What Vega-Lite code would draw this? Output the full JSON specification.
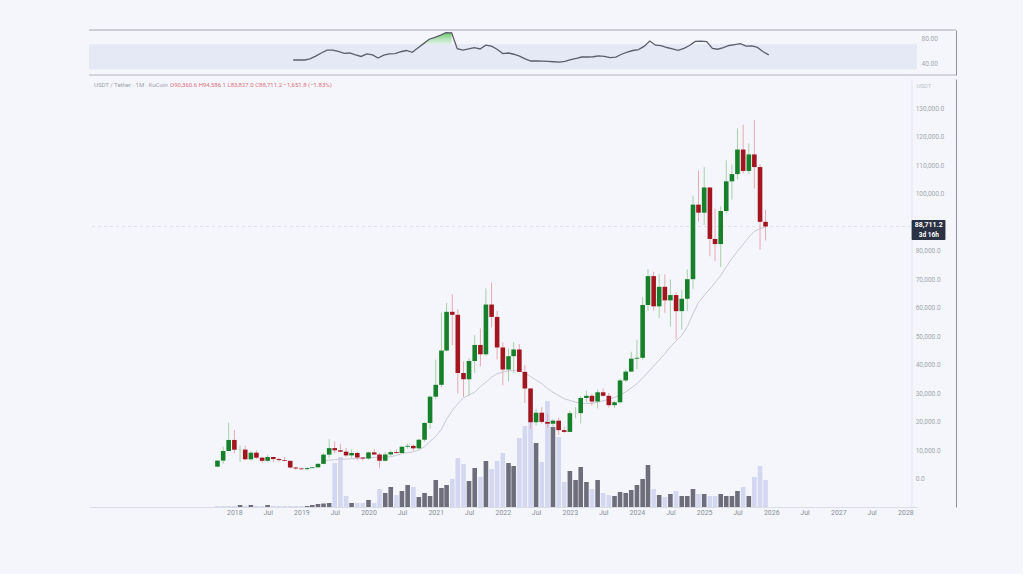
{
"$schema":"https://vega.github.io/schema/vega-lite/v6.json",
"background":"#f4f6fb",
"autosize":{"type":"pad"},
"padding":{"left":88,"top":29,"right":66,"bottom":59},
"config":{"view":{"stroke":null},"font":"Roboto","text":{"font":"Roboto"},"axis":{"grid":false,"ticks":false,"labelColor":"#a3a6b0","domainColor":"#8e919c","labelFontSize":6.5,"labelFont":"Roboto"}},
"spacing":2,
"datasets":{"btc":[
{"d":"2017-10-01","o":4340,"h":6470,"l":4110,"c":6463,"v":1,"g":"a"},
{"d":"2017-11-01","o":6463,"h":11300,"l":5325,"c":9838,"v":1,"g":"a"},
{"d":"2017-12-01","o":9838,"h":19798,"l":9800,"c":13716,"v":1,"g":"a"},
{"d":"2018-01-01","o":13716,"h":17176,"l":9035,"c":10285,"v":1,"g":"a"},
{"d":"2018-02-01","o":10285,"h":11786,"l":6000,"c":10326,"v":2,"g":"b"},
{"d":"2018-03-01","o":10326,"h":11710,"l":6600,"c":6923,"v":1,"g":"a"},
{"d":"2018-04-01","o":6923,"h":9759,"l":6430,"c":9246,"v":2,"g":"b"},
{"d":"2018-05-01","o":9246,"h":10020,"l":7032,"c":7494,"v":1,"g":"a"},
{"d":"2018-06-01","o":7494,"h":7760,"l":5755,"c":6391,"v":1,"g":"a"},
{"d":"2018-07-01","o":6391,"h":8507,"l":6070,"c":7730,"v":2,"g":"b"},
{"d":"2018-08-01","o":7730,"h":7750,"l":5880,"c":7011,"v":1,"g":"a"},
{"d":"2018-09-01","o":7011,"h":7410,"l":6100,"c":6626,"v":1,"g":"a"},
{"d":"2018-10-01","o":6626,"h":7680,"l":6200,"c":6371,"v":1,"g":"a"},
{"d":"2018-11-01","o":6371,"h":6600,"l":3652,"c":4041,"v":1,"g":"a"},
{"d":"2018-12-01","o":4041,"h":4312,"l":3156,"c":3702,"v":1,"g":"a","rsi":44.8},
{"d":"2019-01-01","o":3702,"h":4070,"l":3350,"c":3434,"v":1,"g":"a","rsi":44.8},
{"d":"2019-02-01","o":3434,"h":4198,"l":3370,"c":3813,"v":1,"g":"b","rsi":44.8},
{"d":"2019-03-01","o":3813,"h":4140,"l":3785,"c":4103,"v":2,"g":"b","rsi":46.5},
{"d":"2019-04-01","o":4103,"h":5600,"l":4050,"c":5321,"v":3,"g":"b","rsi":51},
{"d":"2019-05-01","o":5321,"h":9074,"l":5300,"c":8555,"v":3.5,"g":"b","rsi":56,"ma":6500},
{"d":"2019-06-01","o":8555,"h":13970,"l":7440,"c":10854,"v":4,"g":"b","rsi":60.5,"ma":6600},
{"d":"2019-07-01","o":10854,"h":13200,"l":9071,"c":10085,"v":44,"g":"a","rsi":60.5,"ma":6800},
{"d":"2019-08-01","o":10085,"h":12325,"l":9320,"c":9588,"v":50,"g":"a","rsi":58.5,"ma":7000},
{"d":"2019-09-01","o":9588,"h":10905,"l":7710,"c":8289,"v":11,"g":"a","rsi":55.5,"ma":7000},
{"d":"2019-10-01","o":8289,"h":10370,"l":7300,"c":9140,"v":4,"g":"b","rsi":56,"ma":7100},
{"d":"2019-11-01","o":9140,"h":9505,"l":6515,"c":7540,"v":4,"g":"a","rsi":53,"ma":7200},
{"d":"2019-12-01","o":7540,"h":7750,"l":6435,"c":7195,"v":4,"g":"a","rsi":50.5,"ma":7300},
{"d":"2020-01-01","o":7195,"h":9578,"l":6871,"c":9352,"v":7,"g":"b","rsi":54.5,"ma":7500},
{"d":"2020-02-01","o":9352,"h":10500,"l":8445,"c":8600,"v":4,"g":"a","rsi":53,"ma":7600},
{"d":"2020-03-01","o":8600,"h":9190,"l":3782,"c":6412,"v":18,"g":"a","rsi":48,"ma":7600},
{"d":"2020-04-01","o":6412,"h":9460,"l":6150,"c":8620,"v":14,"g":"b","rsi":52.5,"ma":7700},
{"d":"2020-05-01","o":8620,"h":10067,"l":8106,"c":9448,"v":20,"g":"b","rsi":54.5,"ma":7800},
{"d":"2020-06-01","o":9448,"h":10380,"l":8833,"c":9138,"v":12,"g":"a","rsi":55,"ma":8300},
{"d":"2020-07-01","o":9138,"h":11444,"l":8977,"c":11335,"v":16,"g":"b","rsi":58,"ma":8900},
{"d":"2020-08-01","o":11335,"h":12468,"l":10518,"c":11649,"v":22,"g":"b","rsi":60,"ma":9300},
{"d":"2020-09-01","o":11649,"h":12067,"l":9825,"c":10776,"v":20,"g":"a","rsi":57,"ma":9500},
{"d":"2020-10-01","o":10776,"h":14100,"l":10375,"c":13791,"v":10,"g":"b","rsi":64,"ma":10200},
{"d":"2020-11-01","o":13791,"h":19863,"l":13195,"c":19695,"v":14,"g":"b","rsi":71,"ma":11300},
{"d":"2020-12-01","o":19695,"h":29300,"l":17572,"c":28923,"v":11,"g":"b","rsi":78,"ma":13200},
{"d":"2021-01-01","o":28923,"h":41950,"l":28130,"c":33092,"v":27,"g":"b","rsi":81,"ma":15000},
{"d":"2021-02-01","o":33092,"h":58352,"l":32296,"c":45135,"v":19,"g":"b","rsi":84.5,"ma":17500},
{"d":"2021-03-01","o":45135,"h":61844,"l":44950,"c":58740,"v":22,"g":"b","rsi":88.5,"ma":21000},
{"d":"2021-04-01","o":58740,"h":64854,"l":47044,"c":57694,"v":28,"g":"a","rsi":88,"ma":24000},
{"d":"2021-05-01","o":57694,"h":59592,"l":30000,"c":37253,"v":49,"g":"a","rsi":63,"ma":26500},
{"d":"2021-06-01","o":37253,"h":41330,"l":28805,"c":35045,"v":43,"g":"a","rsi":60.5,"ma":28500},
{"d":"2021-07-01","o":35045,"h":42448,"l":29278,"c":41461,"v":26,"g":"b","rsi":62.5,"ma":29500},
{"d":"2021-08-01","o":41461,"h":50500,"l":37332,"c":47100,"v":39,"g":"b","rsi":64.5,"ma":30500},
{"d":"2021-09-01","o":47100,"h":52920,"l":39600,"c":43824,"v":30,"g":"a","rsi":62.5,"ma":32500},
{"d":"2021-10-01","o":43824,"h":67000,"l":43283,"c":61299,"v":46,"g":"b","rsi":68.5,"ma":34000},
{"d":"2021-11-01","o":61299,"h":69000,"l":53256,"c":56950,"v":38,"g":"a","rsi":67,"ma":35800},
{"d":"2021-12-01","o":56950,"h":59053,"l":42000,"c":46216,"v":46,"g":"a","rsi":62,"ma":37000},
{"d":"2022-01-01","o":46216,"h":47990,"l":32917,"c":38466,"v":54,"g":"a","rsi":55,"ma":37600},
{"d":"2022-02-01","o":38466,"h":45821,"l":34322,"c":43160,"v":44,"g":"b","rsi":56,"ma":38000},
{"d":"2022-03-01","o":43160,"h":48189,"l":37155,"c":45510,"v":41,"g":"b","rsi":54,"ma":38200},
{"d":"2022-04-01","o":45510,"h":47444,"l":37578,"c":37630,"v":69,"g":"a","rsi":51,"ma":38000},
{"d":"2022-05-01","o":37630,"h":40023,"l":26700,"c":31801,"v":81,"g":"a","rsi":46.5,"ma":37200},
{"d":"2022-06-01","o":31801,"h":31982,"l":17622,"c":19942,"v":86,"g":"a","rsi":43.2,"ma":36000},
{"d":"2022-07-01","o":19942,"h":24668,"l":18781,"c":23293,"v":64,"g":"b","rsi":43.2,"ma":34800},
{"d":"2022-08-01","o":23293,"h":25211,"l":19520,"c":20050,"v":45,"g":"a","rsi":43,"ma":33500},
{"d":"2022-09-01","o":20050,"h":22799,"l":18125,"c":19423,"v":106,"g":"a","rsi":42.5,"ma":31800},
{"d":"2022-10-01","o":19423,"h":21085,"l":18190,"c":20490,"v":80,"g":"b","rsi":42,"ma":30500},
{"d":"2022-11-01","o":20490,"h":21480,"l":15476,"c":17164,"v":70,"g":"a","rsi":41.3,"ma":29300},
{"d":"2022-12-01","o":17164,"h":18387,"l":16256,"c":16542,"v":25,"g":"a","rsi":42.5,"ma":28200},
{"d":"2023-01-01","o":16542,"h":23960,"l":16499,"c":23125,"v":36,"g":"b","rsi":45.3,"ma":27600},
{"d":"2023-02-01","o":23125,"h":25250,"l":21351,"c":23142,"v":27,"g":"b","rsi":47.5,"ma":27000},
{"d":"2023-03-01","o":23142,"h":29184,"l":19549,"c":28465,"v":40,"g":"b","rsi":49.6,"ma":26600},
{"d":"2023-04-01","o":28465,"h":31000,"l":26942,"c":29233,"v":25,"g":"b","rsi":49.6,"ma":26500},
{"d":"2023-05-01","o":29233,"h":29820,"l":25811,"c":27210,"v":18,"g":"a","rsi":50,"ma":26600},
{"d":"2023-06-01","o":27210,"h":31432,"l":24800,"c":30472,"v":27,"g":"b","rsi":51.5,"ma":27000},
{"d":"2023-07-01","o":30472,"h":31804,"l":28861,"c":29232,"v":14,"g":"a","rsi":50.5,"ma":27500},
{"d":"2023-08-01","o":29232,"h":30244,"l":25166,"c":25941,"v":12,"g":"a","rsi":48.5,"ma":28000},
{"d":"2023-09-01","o":25941,"h":27483,"l":24901,"c":26963,"v":11,"g":"b","rsi":49.3,"ma":28700},
{"d":"2023-10-01","o":26963,"h":35280,"l":26538,"c":34639,"v":15,"g":"b","rsi":54,"ma":29500},
{"d":"2023-11-01","o":34639,"h":38450,"l":34097,"c":37723,"v":14,"g":"b","rsi":57.5,"ma":30600},
{"d":"2023-12-01","o":37723,"h":44700,"l":37617,"c":42283,"v":17,"g":"b","rsi":60,"ma":32000},
{"d":"2024-01-01","o":42283,"h":48969,"l":38555,"c":42580,"v":22,"g":"b","rsi":61.5,"ma":33500},
{"d":"2024-02-01","o":42580,"h":63913,"l":41884,"c":61130,"v":28,"g":"b","rsi":67,"ma":35500},
{"d":"2024-03-01","o":61130,"h":73777,"l":59005,"c":71280,"v":42,"g":"b","rsi":75.2,"ma":37500},
{"d":"2024-04-01","o":71280,"h":72797,"l":59191,"c":60672,"v":18,"g":"a","rsi":68.5,"ma":39700},
{"d":"2024-05-01","o":60672,"h":71979,"l":56552,"c":67540,"v":12,"g":"b","rsi":67.7,"ma":41800},
{"d":"2024-06-01","o":67540,"h":71980,"l":58402,"c":62772,"v":10,"g":"a","rsi":64.8,"ma":44000},
{"d":"2024-07-01","o":62772,"h":70080,"l":53485,"c":64628,"v":13,"g":"b","rsi":62.5,"ma":46500},
{"d":"2024-08-01","o":64628,"h":65660,"l":49000,"c":58974,"v":16,"g":"a","rsi":60.3,"ma":48500},
{"d":"2024-09-01","o":58974,"h":66498,"l":52550,"c":63327,"v":11,"g":"b","rsi":63.5,"ma":50500},
{"d":"2024-10-01","o":63327,"h":73620,"l":58946,"c":70215,"v":11,"g":"b","rsi":68,"ma":53500},
{"d":"2024-11-01","o":70215,"h":99588,"l":66835,"c":96407,"v":18,"g":"b","rsi":74.5,"ma":58000},
{"d":"2024-12-01","o":96407,"h":108353,"l":90500,"c":93576,"v":13,"g":"a","rsi":75,"ma":62000},
{"d":"2025-01-01","o":93576,"h":109588,"l":89256,"c":102429,"v":13,"g":"b","rsi":74.1,"ma":64500},
{"d":"2025-02-01","o":102429,"h":102500,"l":78258,"c":84350,"v":11,"g":"a","rsi":63.5,"ma":66800},
{"d":"2025-03-01","o":84350,"h":95000,"l":76606,"c":82548,"v":11,"g":"a","rsi":62,"ma":69000},
{"d":"2025-04-01","o":82548,"h":95758,"l":74508,"c":94172,"v":13,"g":"b","rsi":64.5,"ma":71500},
{"d":"2025-05-01","o":94172,"h":111980,"l":93377,"c":104591,"v":11,"g":"b","rsi":68,"ma":74500},
{"d":"2025-06-01","o":104591,"h":110530,"l":98200,"c":107135,"v":11,"g":"b","rsi":69.5,"ma":77500},
{"d":"2025-07-01","o":107135,"h":123218,"l":105271,"c":115764,"v":16,"g":"b","rsi":70.9,"ma":80000},
{"d":"2025-08-01","o":115764,"h":124474,"l":107350,"c":108246,"v":20,"g":"a","rsi":67,"ma":82500},
{"d":"2025-09-01","o":108246,"h":117900,"l":107255,"c":114048,"v":11,"g":"b","rsi":67.5,"ma":85000},
{"d":"2025-10-01","o":114048,"h":126200,"l":102000,"c":109608,"v":30,"g":"a","rsi":65,"ma":87000},
{"d":"2025-11-01","o":109608,"h":110600,"l":80600,"c":90360,"v":41,"g":"a","rsi":58,"ma":88000},
{"d":"2025-12-01","o":90360.6,"h":94586.1,"l":83827.0,"c":88711.2,"v":27,"g":"a","rsi":53,"ma":88500}
]},
"vconcat":[
{
"width":828,"height":45,
"data":{"name":"btc"},
"layer":[
{"data":{"values":[{}]},"mark":{"type":"rect","color":"#e5e8f5"},
 "encoding":{"y":{"datum":30,"type":"quantitative","scale":{"domain":[20.8,92.8],"nice":false,"zero":false},"axis":{"title":null}},"y2":{"datum":70}}},
{"transform":[{"filter":"datum.rsi >= 70 && toDate(datum.d) > datetime(2020,9,15) && toDate(datum.d) < datetime(2021,3,15)"}],
 "mark":{"type":"area","color":{"gradient":"linear","x1":0,"y1":1,"x2":0,"y2":0,"stops":[{"offset":0,"color":"rgba(120,210,120,0.15)"},{"offset":1,"color":"rgba(70,190,70,0.8)"}]}},
 "encoding":{"x":{"field":"d","type":"temporal","scale":{"type":"utc","domain":[{"year":2015,"month":11,"date":29,"utc":true},{"year":2028,"month":2,"date":6,"utc":true}]},"axis":null},
  "y":{"field":"rsi","type":"quantitative","axis":{"title":null}},"y2":{"datum":70}}},
{"transform":[{"filter":"isValid(datum.rsi)"}],
 "mark":{"type":"line","color":"#5c5f6b","strokeWidth":1.3},
 "encoding":{"x":{"field":"d","type":"temporal","scale":{"type":"utc","domain":[{"year":2015,"month":11,"date":29,"utc":true},{"year":2028,"month":2,"date":6,"utc":true}]},"axis":null},
  "y":{"field":"rsi","type":"quantitative","scale":{"domain":[20.8,92.8],"nice":false,"zero":false},
   "axis":{"orient":"right","values":[80,40],"format":".2f","offset":39,"labelPadding":-35,"labelAlign":"left","ticks":false,"grid":false,"domain":true,"domainColor":"#8e919c","labelColor":"#a3a6b0","labelFontSize":6.5,"title":null}}}},
{"data":{"values":[{}]},"mark":{"type":"rule","color":"#a7aab5","strokeWidth":1},
 "encoding":{"y":{"datum":92.8,"type":"quantitative","axis":{"title":null}},"x":{"datum":{"year":2015,"month":11,"date":29,"utc":true},"type":"temporal","axis":null},"x2":{"datum":{"year":2028,"month":9,"date":2,"utc":true}}}},
{"data":{"values":[{}]},"mark":{"type":"rule","color":"#b3b6c1","strokeWidth":1},
 "encoding":{"y":{"datum":20.8,"type":"quantitative","axis":{"title":null}},"x":{"datum":{"year":2015,"month":11,"date":29,"utc":true},"type":"temporal","axis":null},"x2":{"datum":{"year":2028,"month":9,"date":2,"utc":true}}}}
]
},
{
"width":828,"height":428,
"data":{"name":"btc"},
"resolve":{"scale":{"y":"independent"}},
"layer":[
{"mark":{"type":"bar","size":4.6},
 "encoding":{"x":{"field":"d","type":"temporal","scale":{"type":"utc","domain":[{"year":2015,"month":11,"date":29,"utc":true},{"year":2028,"month":2,"date":6,"utc":true}]},"axis":{"title":null}},
  "y":{"field":"v","type":"quantitative","scale":{"domain":[0,428],"nice":false},"axis":null},
  "color":{"field":"g","type":"nominal","scale":{"domain":["a","b"],"range":["#d3d7f0","#6d6d7b"]},"legend":null}}},
{"layer":[
 {"data":{"values":[{}]},"mark":{"type":"rule","color":"#dfe2ec","strokeDash":[3,3],"strokeWidth":1},
  "encoding":{"y":{"datum":88711.2,"type":"quantitative","axis":{"title":null}}}},
 {"data":{"values":[{}]},"mark":{"type":"rule","color":"#e2e5ee","strokeWidth":1},
  "encoding":{"x":{"datum":{"year":2028,"month":2,"date":6,"utc":true},"type":"temporal","axis":{"title":null}}}},
 {"transform":[{"filter":"isValid(datum.ma)"}],
  "mark":{"type":"line","color":"#c6c9d7","strokeWidth":1},
  "encoding":{"x":{"field":"d","type":"temporal","axis":{"title":null}},"y":{"field":"ma","type":"quantitative","axis":{"title":null}}}},
 {"mark":{"type":"rule","strokeWidth":1},
  "encoding":{"x":{"field":"d","type":"temporal","axis":{"title":null}},"y":{"field":"l","type":"quantitative","axis":{"title":null}},"y2":{"field":"h"},
   "color":{"condition":{"test":"datum.c >= datum.o","value":"#a9cfa9"},"value":"#e6a9b1"}}},
 {"mark":{"type":"bar","size":4.6},
  "encoding":{"x":{"field":"d","type":"temporal","scale":{"type":"utc","domain":[{"year":2015,"month":11,"date":29,"utc":true},{"year":2028,"month":2,"date":6,"utc":true}]},
    "axis":{"values":[{"year":2018,"month":1,"date":1,"utc":true},{"year":2018,"month":7,"date":1,"utc":true},{"year":2019,"month":1,"date":1,"utc":true},{"year":2019,"month":7,"date":1,"utc":true},{"year":2020,"month":1,"date":1,"utc":true},{"year":2020,"month":7,"date":1,"utc":true},{"year":2021,"month":1,"date":1,"utc":true},{"year":2021,"month":7,"date":1,"utc":true},{"year":2022,"month":1,"date":1,"utc":true},{"year":2022,"month":7,"date":1,"utc":true},{"year":2023,"month":1,"date":1,"utc":true},{"year":2023,"month":7,"date":1,"utc":true},{"year":2024,"month":1,"date":1,"utc":true},{"year":2024,"month":7,"date":1,"utc":true},{"year":2025,"month":1,"date":1,"utc":true},{"year":2025,"month":7,"date":1,"utc":true},{"year":2026,"month":1,"date":1,"utc":true},{"year":2026,"month":7,"date":1,"utc":true},{"year":2027,"month":1,"date":1,"utc":true},{"year":2027,"month":7,"date":1,"utc":true},{"year":2028,"month":1,"date":1,"utc":true}],
     "labelExpr":"utcmonth(datum.value) == 0 ? utcFormat(datum.value, '%Y') : 'Jul'","title":null,"grid":false,"ticks":false,"domain":true,"domainColor":"#dadde6","labelColor":"#8b8e99","labelFontSize":7,"labelPadding":1,"labelFlush":false,"labelOverlap":false}},
   "y":{"field":"o","type":"quantitative","scale":{"domain":[-9840,140550],"nice":false,"zero":false},
    "axis":{"orient":"right","labels":false,"offset":39,"ticks":false,"grid":false,"domain":true,"domainColor":"#8e919c","title":null}},
   "y2":{"field":"c"},
   "color":{"condition":{"test":"datum.c >= datum.o","value":"#17802a"},"value":"#a3161f"}}},
 {"data":{"values":[{"p":0},{"p":10000},{"p":20000},{"p":30000},{"p":40000},{"p":50000},{"p":60000},{"p":70000},{"p":80000},{"p":100000},{"p":110000},{"p":120000},{"p":130000}]},
  "mark":{"type":"text","align":"left","baseline":"middle","fontSize":6.5,"color":"#a3a6b0"},
  "encoding":{"x":{"datum":{"year":2028,"month":2,"date":26,"utc":true},"type":"temporal","axis":{"title":null}},"y":{"field":"p","type":"quantitative","axis":{"title":null}},"text":{"field":"p","type":"quantitative","format":",.1f"}}},
 {"data":{"values":[{}]},"mark":{"type":"text","align":"left","baseline":"middle","fontSize":6,"color":"#9ea1ac"},
  "encoding":{"x":{"datum":{"year":2015,"month":11,"date":29,"utc":true},"type":"temporal","axis":{"title":null}},"y":{"datum":138300,"type":"quantitative","axis":{"title":null}},"text":{"value":"USDT / Tether · 1M · KuCoin"}}},
 {"data":{"values":[{}]},"mark":{"type":"text","align":"left","baseline":"middle","fontSize":6,"color":"#e0717d"},
  "encoding":{"x":{"datum":{"year":2017,"month":1,"date":16,"utc":true},"type":"temporal","axis":{"title":null}},"y":{"datum":138300,"type":"quantitative","axis":{"title":null}},"text":{"value":"O90,360.6  H94,586.1  L83,827.0  C88,711.2  −1,651.8 (−1.83%)"}}},
 {"data":{"values":[{}]},"mark":{"type":"text","align":"left","baseline":"middle","fontSize":6,"color":"#c0c3cc"},
  "encoding":{"x":{"datum":{"year":2028,"month":3,"date":1,"utc":true},"type":"temporal","axis":{"title":null}},"y":{"datum":138000,"type":"quantitative","axis":{"title":null}},"text":{"value":"USDT"}}},
 {"data":{"values":[{}]},"mark":{"type":"rect","color":"#2b3244","cornerRadius":1},
  "encoding":{"x":{"datum":{"year":2028,"month":2,"date":4,"utc":true},"type":"temporal","axis":{"title":null}},"x2":{"datum":{"year":2028,"month":8,"date":6,"utc":true}},
   "y":{"datum":91000,"type":"quantitative","axis":{"title":null}},"y2":{"datum":84000}}},
 {"data":{"values":[{}]},"mark":{"type":"text","align":"center","baseline":"middle","fontSize":7,"fontWeight":"bold","color":"#ffffff"},
  "encoding":{"x":{"datum":{"year":2028,"month":5,"date":7,"utc":true},"type":"temporal","axis":{"title":null}},"y":{"datum":89100,"type":"quantitative","axis":{"title":null}},"text":{"value":"88,711.2"}}},
 {"data":{"values":[{}]},"mark":{"type":"text","align":"center","baseline":"middle","fontSize":6.5,"fontWeight":"bold","color":"#ffffff"},
  "encoding":{"x":{"datum":{"year":2028,"month":5,"date":7,"utc":true},"type":"temporal","axis":{"title":null}},"y":{"datum":85900,"type":"quantitative","axis":{"title":null}},"text":{"value":"3d 16h"}}}
]}
]
}
]
}
